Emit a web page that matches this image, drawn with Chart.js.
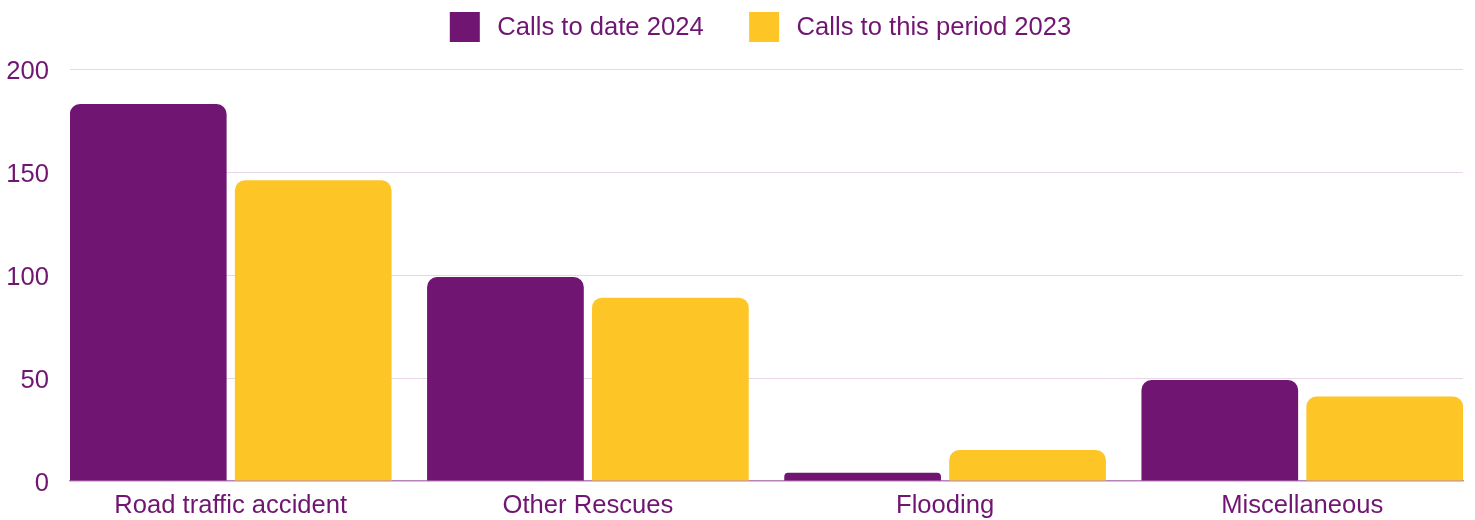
<!DOCTYPE html>
<html>
<head>
<meta charset="utf-8">
<script src="https://cdn.jsdelivr.net/npm/chart.js@4/dist/chart.umd.min.js"></script>
<style>
  html, body { margin: 0; padding: 0; background: #ffffff; }
  #wrap { width: 1475px; height: 520px; }
</style>
</head>
<body>
<div id="wrap"><canvas id="c" width="1475" height="520"></canvas></div>
<script>
// ---- data ----
const categories = ["Road traffic accident", "Other Rescues", "Flooding", "Miscellaneous"];
const seriesNames = ["Calls to date 2024", "Calls to this period 2023"];
const calls2024 = [183, 99, 4, 49];
const calls2023 = [146, 89, 15, 41];
const yTicks = [0, 50, 100, 150, 200];

// ---- styles ----
const PURPLE = "#701571";
const YELLOW = "#FEC526";
const TEXT = "#701571";
const GRID = "#E6D6E8";
const AXIS = "#B582BA";
const FONT = "'Liberation Sans', Arial, sans-serif";
const FSIZE = 25.6;

const toPoints = (vals) => vals.map((v, i) => ({ x: i, y: v }));

const legendPlugin = {
  id: "customLegend",
  afterDraw(chart) {
    const ctx = chart.ctx;
    const ds = chart.data.datasets;
    const box = 30, gapBT = 17.5, gapItems = 45.5;
    ctx.save();
    ctx.font = FSIZE + "px " + FONT;
    const widths = ds.map(d => ctx.measureText(d.label).width);
    let total = 0;
    widths.forEach((w, i) => { total += box + gapBT + w + (i < widths.length - 1 ? gapItems : 0); });
    const ca = chart.chartArea;
    let x = (ca.left + ca.right) / 2 - 6 - total / 2;
    const cy = 27;
    ds.forEach((d, i) => {
      ctx.fillStyle = d.backgroundColor;
      ctx.fillRect(x, cy - box / 2, box, box);
      ctx.fillStyle = TEXT;
      ctx.textBaseline = "middle";
      ctx.textAlign = "left";
      ctx.fillText(d.label, x + box + gapBT, cy + 1);
      x += box + gapBT + widths[i] + gapItems;
    });
    ctx.restore();
  }
};

new Chart(document.getElementById("c"), {
  type: "bar",
  data: {
    datasets: [
      { label: seriesNames[0], data: toPoints(calls2024), backgroundColor: PURPLE },
      { label: seriesNames[1], data: toPoints(calls2023), backgroundColor: YELLOW }
    ]
  },
  options: {
    responsive: false,
    animation: false,
    layout: { padding: { top: 69, right: 12, bottom: 0, left: 0 } },
    datasets: {
      bar: {
        categoryPercentage: 0.9236,
        barPercentage: 0.95,
        borderRadius: 10,
        borderSkipped: "start"
      }
    },
    plugins: {
      legend: { display: false },
      tooltip: { enabled: false }
    },
    scales: {
      x: {
        type: "linear",
        min: -0.45,
        max: 3.45,
        offset: false,
        afterBuildTicks: (s) => { s.ticks = categories.map((c, i) => ({ value: i })); },
        afterFit: (s) => { s.height = 39; },
        grid: { display: false, drawTicks: false },
        border: { display: true, color: AXIS, width: 1.3 },
        ticks: {
          autoSkip: false,
          maxRotation: 0,
          padding: 10,
          color: TEXT,
          font: { family: FONT, size: FSIZE },
          callback: (v) => categories[v]
        }
      },
      y: {
        min: 0,
        max: 200,
        afterBuildTicks: (s) => { s.ticks = yTicks.map(v => ({ value: v })); },
        afterFit: (s) => { s.width = 70; },
        grid: { color: GRID, lineWidth: 1, drawTicks: false },
        border: { display: false },
        ticks: {
          padding: 21,
          labelOffset: 3,
          color: TEXT,
          font: { family: FONT, size: FSIZE }
        }
      }
    }
  },
  plugins: [legendPlugin]
});
</script>
</body>
</html>
